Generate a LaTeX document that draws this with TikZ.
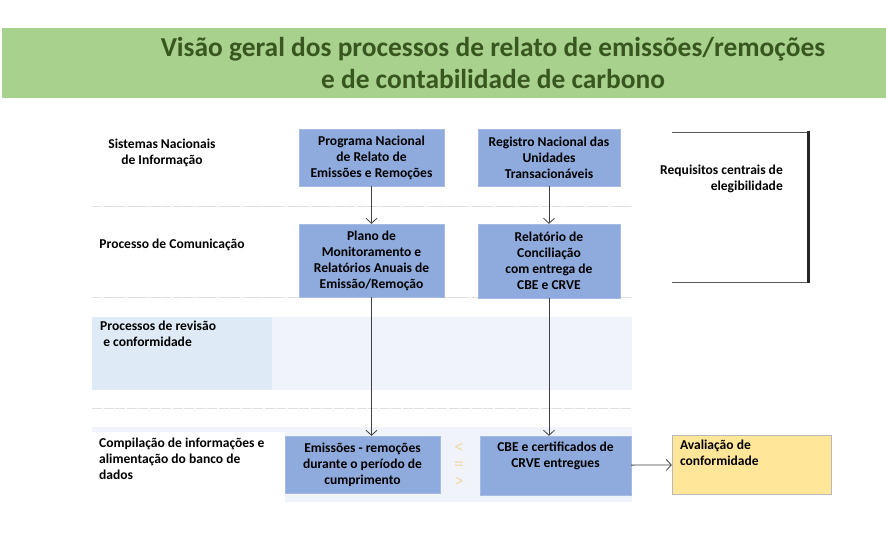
\documentclass[tikz,border=0pt]{standalone}
\usepackage{fontspec}
\setmainfont{Carlito}
\usepackage{tikz}
\usetikzlibrary{arrows.meta}
\usetikzlibrary{positioning}
\definecolor{titlegreen}{HTML}{A9D18E}
\definecolor{titletext}{HTML}{38571F}
\definecolor{boxblue}{HTML}{8FAADC}
\definecolor{bandlight}{HTML}{F0F4FA}
\definecolor{bandlabel}{HTML}{DEEAF6}
\definecolor{evalyellow}{HTML}{FFE699}
\definecolor{symtan}{HTML}{F2D9AE}

\begin{document}
\begin{tikzpicture}[x=1bp,y=-1bp,>={Straight Barb[length=5bp,width=11bp]},
    every node/.style={font=\bfseries\fontsize{13.6}{16}\selectfont},
    bluebox/.style={fill=boxblue,draw=boxblue!80!white,inner sep=1bp,align=center},
    sidelabel/.style={align=left,inner sep=0pt},
    symbol/.style={symtan,inner sep=0pt,text height=9bp,text depth=0pt,font=\fontsize{20}{20}\selectfont},
    sepline/.style={gray!25,line width=1bp,dash pattern=on 10bp off 1.5bp},
    flow/.style={->,black!75,line width=0.8bp}]
  \useasboundingbox (0,0) rectangle (886,560);
  %% title band
  \fill[titlegreen] (2,28) rectangle (886,98);
  \node[titletext,align=center,font=\bfseries\fontsize{27.5}{33}\selectfont] (title) at (493,63)
    {Visão geral dos processos de relato de emissões/remoções\\e de contabilidade de carbono};
  %% separators
  \foreach \y in {207,298,408}
    \draw[sepline] (92,\y) -- (632,\y);
  %% bands
  \fill[bandlight] (272,317) rectangle (632,390);
  \fill[bandlabel] (92,317) rectangle (272,390);
  \fill[bandlight] (92,427) rectangle (632,502);
  \fill[white] (92,432) rectangle (285,502);
  %% row labels
  \node[align=center,inner sep=0pt] (lsis) at (162,153) {Sistemas Nacionais\\de Informação};
  \node[sidelabel] (lcom) at (172,245) {Processo de Comunicação};
  \node[sidelabel,anchor=north west] (lrev) at (100,321) {Processos de revisão\\\ e conformidade};
  \node[sidelabel,anchor=north west] (lcomp) at (99,438)
    {Compilação de informações e\\alimentação do banco de\\dados};
  %% boxes
  \node[bluebox,minimum width=145bp,minimum height=57bp] (prog) at (371.5,157.5)
    {Programa Nacional\\de Relato de\\Emissões e Remoções};
  \node[bluebox,minimum width=142bp,minimum height=57bp] (reg) at (549,157.5)
    {Registro Nacional das\\Unidades\\Transacionáveis};
  \node[bluebox,minimum width=145bp,minimum height=73bp] (plano) at (371.5,260.5)
    {Plano de\\Monitoramento e\\Relatórios Anuais de\\Emissão/Remoção};
  \node[bluebox,minimum width=142bp,minimum height=74bp] (conc) at (549,261)
    {Relatório de\\Conciliação\\com entrega de\\CBE e CRVE};
  \node[bluebox,minimum width=155bp,minimum height=57bp] (emis) at (362.5,464.5)
    {Emissões - remoções\\durante o período de\\cumprimento};
  \node[bluebox,minimum width=151bp,minimum height=59bp] (cbe) at (555.5,465.5) {};
  \node[align=center,anchor=north,inner sep=0pt] (cbetxt) at ([yshift=-6bp]cbe.north)
    {CBE e certificados de\\CRVE entregues};
  \node[fill=evalyellow,draw=gray!55,minimum width=159bp,minimum height=59bp] (aval) at (751.5,464.5) {};
  \node[sidelabel,anchor=north west] (avaltxt) at ([xshift=8bp,yshift=-5bp]aval.north west)
    {Avaliação de\\conformidade};
  %% comparison sign
  \node[symbol] (cmpa) at (459,449) {<};
  \node[symbol] (cmpb) at (459,466) {=};
  \node[symbol] (cmpc) at (459,483) {>};
  %% requirements bracket
  \coordinate (bt) at (672,132);
  \coordinate (bb) at (672,282);
  \draw[gray!70!black,line width=0.7bp] (bt) -- (808,132);
  \draw[gray!70!black,line width=0.7bp] (bb) -- (808,282);
  \draw[black!85,line width=3bp] (808,131) -- (808,283);
  \node[align=right,inner sep=0pt,anchor=east] (req) at (783,179)
    {Requisitos centrais de\\elegibilidade};
  %% connectors
  \draw[flow] (prog) -- (plano);
  \draw[flow] (reg) -- (conc);
  \draw[flow] (plano.south) -- (plano.south |- emis.north);
  \draw[flow] (conc.south) -- (conc.south |- cbe.north);
  \draw[flow] (cbe) -- (aval);
\end{tikzpicture}
\end{document}
